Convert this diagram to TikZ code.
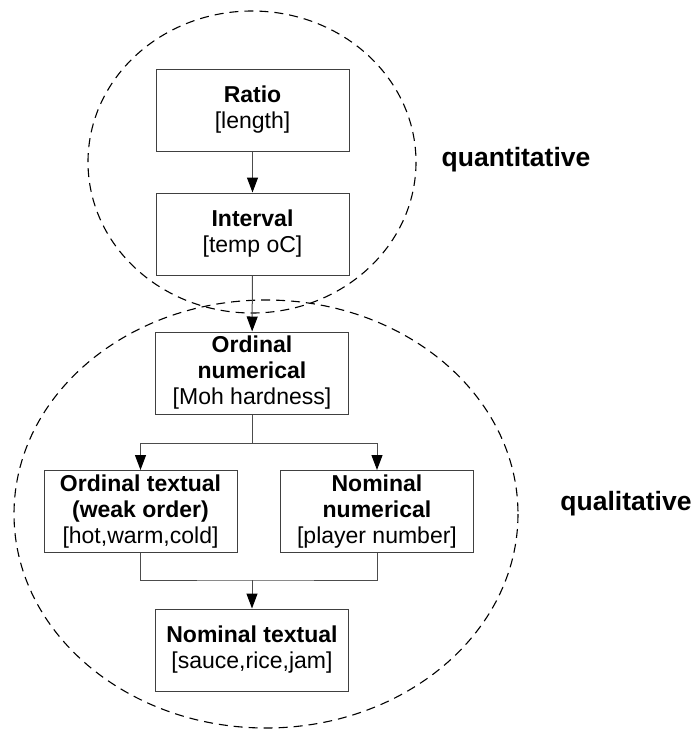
\documentclass[tikz,border=0pt]{standalone}
\usepackage{fontspec}
\setmainfont{Liberation Sans}
\usetikzlibrary{positioning, arrows.meta}
\tikzset{
  blk/.style={draw=black!75, line width=1pt, minimum width=193pt, minimum height=82pt,
    align=center, inner sep=0pt, font=\fontsize{23pt}{26pt}\selectfont},
  lnk/.style={draw=black!70, line width=1pt, -{Triangle[width=11pt,length=15pt,color=black]}},
  wire/.style={draw=black!70, line width=1pt},
  grp/.style={dash pattern=on 9pt off 6pt, line width=1.1pt},
  lbl/.style={font=\fontsize{26.5pt}{30pt}\selectfont\bfseries}}

\begin{document}
\begin{tikzpicture}[x=1pt,y=-1pt]
  \useasboundingbox (0,0) rectangle (696,729);
  % the two groups
  \draw[grp] (252,162) ellipse [x radius=164, y radius=151];
  \draw[grp] (266,514) ellipse [x radius=252, y radius=214];
  % scales
  \node[blk] (ratio) at (252.5,110) {\textbf{Ratio}\\{}[length]};
  \node[blk] (interval) at (252.5,234) {\textbf{Interval}\\{}[temp oC]};
  \node[blk] (ordnum) at (252,373) {\textbf{Ordinal}\\\textbf{numerical}\\{}[Moh hardness]};
  \node[blk] (ordtxt) at (140.5,511.5) {\textbf{Ordinal textual}\\\textbf{(weak order)}\\{}[hot,warm,cold]};
  \node[blk] (nomnum) at (377,511.5) {\textbf{Nominal}\\\textbf{numerical}\\{}[player number]};
  \node[blk] (nomtxt) at (252,650) {\textbf{Nominal textual}\\{}[sauce,rice,jam]};
  \coordinate (split) at (252,443);
  \coordinate (join) at (252,580);
  % links
  \draw[lnk] (ratio) -- (interval);
  \draw[lnk] (interval) -- (ordnum);
  \draw[wire] (ordnum) -- (split);
  \draw[lnk] (split) -| (ordtxt);
  \draw[lnk] (split) -| (nomnum);
  \draw[wire] (ordtxt.south) |- (join) -| (nomnum.south);
  \draw[lnk] (join) -- (nomtxt);
  % group labels
  \node[lbl] (quant) at (516,160) {quantitative};
  \node[lbl] (qual) at (626,504) {qualitative};
\end{tikzpicture}
\end{document}
